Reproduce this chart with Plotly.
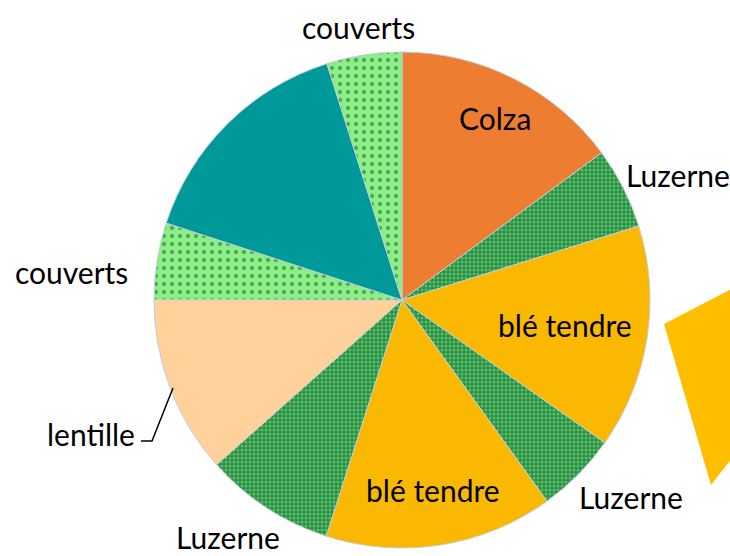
import plotly.graph_objects as go

labels = ["Colza", "Luzerne", "blé tendre", "Luzerne", "blé tendre",
          "Luzerne", "lentille", "couverts", "", "couverts"]
values = [14.9, 5.3, 14.6, 5.3, 14.9, 8.5, 11.6, 5.0, 15.1, 4.9]
kinds = ["colza", "luzerne", "ble", "luzerne", "ble",
         "luzerne", "lentille", "couverts", "teal", "couverts"]
# label anchor positions (page pixels) for each slice label
label_px = [(495, 118), (678, 175), (565, 325), (631, 497), (433, 490),
            (228, 537), (None, None), (71, 272), (None, None), (358, 27)]

base = {"colza": "#ED7D31", "luzerne": "#2B8C46", "ble": "#FBB800",
        "lentille": "#FFD29C", "couverts": "#88F07E", "teal": "#00999A"}
fg = {"luzerne": "#86F286", "couverts": "#1F3D5C"}
shape = {"luzerne": ".", "couverts": "."}
psize = {"luzerne": 4, "couverts": 8}
psol = {"luzerne": 0.45, "couverts": 0.2}

colors = [base[k] for k in kinds]
pshapes = [shape.get(k, "") for k in kinds]
pfg = [fg.get(k, base[k]) for k in kinds]
psz = [psize.get(k, 8) for k in kinds]
pso = [psol.get(k, 0.3) for k in kinds]

font = "Lato, 'Open Sans', sans-serif"
W, H = 730, 556
cx, cy, R = 402, 300, 248


def px(x):
    return x / W


def py(y):
    return 1 - y / H


fig = go.Figure(go.Pie(
    labels=[f"s{i}" for i in range(len(values))],
    values=values,
    text=labels,
    textinfo="none",
    sort=False,
    direction="clockwise",
    rotation=0,
    marker=dict(
        colors=colors,
        line=dict(color="#C3CDD6", width=1),
        pattern=dict(shape=pshapes, fgcolor=pfg, bgcolor=colors,
                     size=psz, solidity=pso, fillmode="overlay"),
    ),
    domain=dict(x=[(cx - R) / W, (cx + R) / W], y=[1 - (cy + R) / H, 1 - (cy - R) / H]),
    showlegend=False,
    hoverinfo="skip",
))

for lab, (lx, ly) in zip(labels, label_px):
    if lab and lx is not None:
        fig.add_annotation(x=px(lx), y=py(ly), xref="paper", yref="paper",
                           text=lab, showarrow=False, xanchor="center", yanchor="middle",
                           font=dict(family=font, size=30, color="black"))

# lentille label with elbow leader line
fig.add_annotation(x=px(137), y=py(434), xref="paper", yref="paper",
                   text="lentille", showarrow=False, xanchor="right", yanchor="middle",
                   font=dict(family=font, size=30, color="black"))
fig.add_shape(type="path", xref="paper", yref="paper",
              path=f"M {px(173)},{py(388)} L {px(152)},{py(441)} L {px(141)},{py(441)}",
              line=dict(color="black", width=1.5))

# partial wedge of an adjacent (cropped) pie at the right edge
fig.add_shape(type="path", xref="paper", yref="paper",
              path=f"M {px(664)},{py(324)} L {px(770)},{py(269)} L {px(770)},{py(410)} L {px(711)},{py(485)} Z",
              fillcolor="#FFBF00", line=dict(width=0))

fig.update_layout(width=W, height=H, margin=dict(l=0, r=0, t=0, b=0),
                  paper_bgcolor="white", plot_bgcolor="white")
fig.write_html(
    "out.html",
    config={"displayModeBar": False},
    post_script=("document.body.style.margin='0';"
                 "document.body.style.overflow='hidden';"
                 "document.documentElement.style.overflow='hidden';"),
)
